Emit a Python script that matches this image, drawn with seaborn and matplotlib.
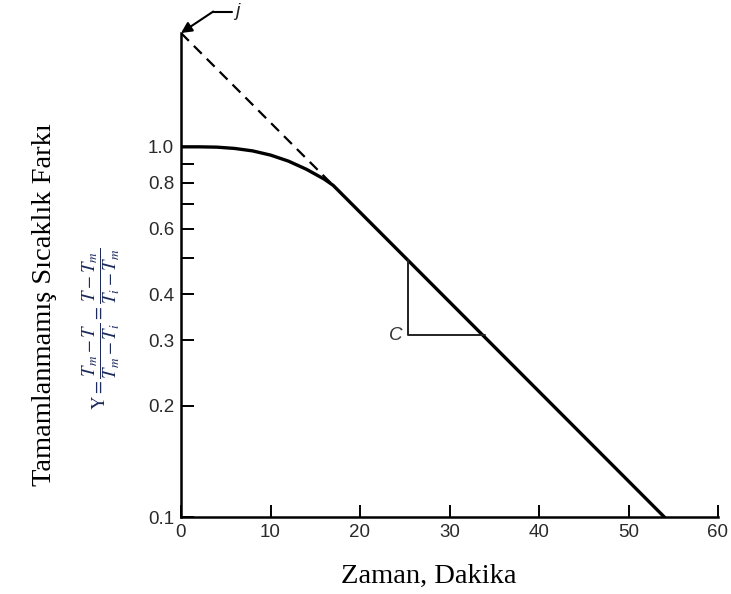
import numpy as np
import pandas as pd
import matplotlib
matplotlib.use("Agg")
import matplotlib.pyplot as plt
from matplotlib.ticker import FixedLocator, FixedFormatter, NullLocator
import seaborn as sns

# ---- data ----
curve_x = [0, 2, 4, 6, 8, 10, 12, 14, 16, 17, 54]
curve_y = [1.0, 1.0, 0.998, 0.99, 0.975, 0.95, 0.915, 0.87, 0.818, 0.787, 0.1]

dash_x = [0, 17]
dash_y = [2.03, 0.787]

tri_x = [25.4, 25.4, 34.0]
tri_y = [0.495, 0.31, 0.31]

ytick_vals = [0.1, 0.2, 0.3, 0.4, 0.5, 0.6, 0.7, 0.8, 0.9, 1.0]
ytick_labels = ["0.1", "0.2", "0.3", "0.4", "", "0.6", "", "0.8", "", "1.0"]
xtick_vals = [0, 10, 20, 30, 40, 50, 60]
xtick_labels = ["0", "10", "20", "30", "40", "50", "60"]

x_label = "Zaman, Dakika"
y_label = "Tamamlanmamış Sıcaklık Farkı"
formula = r"$\mathrm{Y}=\dfrac{T_m-T}{T_m-T_i}=\dfrac{T-T_m}{T_i-T_m}$"

sns.set_theme(style="ticks")
plt.rcParams["font.family"] = ["Liberation Sans", "DejaVu Sans"]
plt.rcParams["mathtext.fontset"] = "stix"

W, H = 731, 594
fig = plt.figure(figsize=(W / 100, H / 100), dpi=100)
ax = fig.add_axes([181 / W, 1 - 517 / H, (718 - 181) / W, (517 - 33) / H])

df_curve = pd.DataFrame({"t": curve_x, "y": curve_y})
df_dash = pd.DataFrame({"t": dash_x, "y": dash_y})
df_tri = pd.DataFrame({"t": tri_x, "y": tri_y})

sns.lineplot(data=df_curve, x="t", y="y", ax=ax, color="black", lw=2.4,
             sort=False, estimator=None)
sns.lineplot(data=df_dash, x="t", y="y", ax=ax, color="black", lw=1.6,
             sort=False, estimator=None, dashes=False)
ax.lines[-1].set_dashes([5, 3.2])
sns.lineplot(data=df_tri, x="t", y="y", ax=ax, color="#222222", lw=1.4,
             sort=False, estimator=None)

ax.set_yscale("log")
ax.set_xlim(0, 60)
ax.set_ylim(0.1, dash_y[0])

ax.yaxis.set_major_locator(FixedLocator(ytick_vals))
ax.yaxis.set_major_formatter(FixedFormatter(ytick_labels))
ax.yaxis.set_minor_locator(NullLocator())
ax.xaxis.set_major_locator(FixedLocator(xtick_vals))
ax.xaxis.set_major_formatter(FixedFormatter(xtick_labels))

ax.tick_params(axis="both", which="major", direction="in", length=9, width=1.4,
               labelsize=13.5, pad=5, colors="black", labelcolor="#2a2a2a")
for s in ["top", "right"]:
    ax.spines[s].set_visible(False)
for s in ["left", "bottom"]:
    ax.spines[s].set_linewidth(1.8)
    ax.spines[s].set_color("black")
ax.set_xlabel("")
ax.set_ylabel("")
ax.grid(False)

# annotation "j" with arrow to the intercept
ax.plot([3.6, 5.7], [2.32, 2.32], color="black", lw=1.5, clip_on=False)
ax.annotate("", xy=(0, dash_y[0]), xytext=(3.6, 2.32),
            arrowprops=dict(arrowstyle="-|>", color="black", lw=1.5,
                            mutation_scale=16, shrinkA=0, shrinkB=0),
            annotation_clip=False)
ax.text(6.1, 2.32, "j", fontsize=14, style="italic", va="center", ha="left",
        color="#222222", clip_on=False)

ax.text(tri_x[0] - 0.6, tri_y[1], "C", fontsize=13.5, style="italic",
        ha="right", va="center", color="#333333")

serif = ["Liberation Serif", "DejaVu Serif"]
fig.text(428.5 / W, 1 - 576 / H, x_label, fontsize=20.5, family=serif,
         ha="center", va="center", color="black")
fig.text(45 / W, 1 - 305 / H, y_label, fontsize=20.5, family=serif,
         rotation=90, ha="center", va="center", color="black")
fig.text(101 / W, 1 - 329 / H, formula, fontsize=13.5, rotation=90,
         ha="center", va="center", color="#1c2a5c")

fig.savefig("out.png", dpi=100)
